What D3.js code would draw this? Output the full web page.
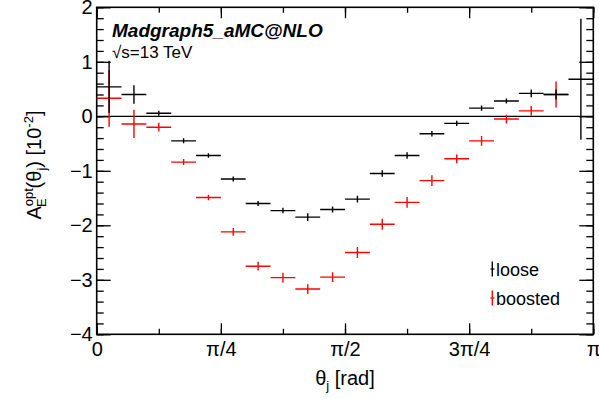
<!DOCTYPE html>
<html>
<head>
<meta charset="utf-8">
<script src="https://cdn.jsdelivr.net/npm/d3@7"></script>
<style>
  body { margin: 0; background: #fff; }
  svg { display: block; font-family: "Liberation Sans", Arial, sans-serif; }
  .axis path { display: none; }
  .axis line { stroke: #000; stroke-width: 1.3px; }
  .axis text { font-size: 20px; fill: #000; font-family: "Liberation Sans", Arial, sans-serif; }
</style>
</head>
<body>
<script>
// 20 bins between 0 and pi
const nBins = 20;
const loose = [0.54, 0.40, 0.055, -0.45, -0.72, -1.15, -1.60, -1.73, -1.85, -1.71,
               -1.52, -1.05, -0.72, -0.32, -0.13, 0.15, 0.28, 0.42, 0.40, 0.68];
const looseErr = [0.48, 0.17, 0.045, 0.045, 0.04, 0.045, 0.045, 0.05, 0.07, 0.055,
                  0.06, 0.06, 0.06, 0.05, 0.05, 0.05, 0.045, 0.07, 0.09, 1.11];
const boosted = [0.33, -0.14, -0.20, -0.84, -1.49, -2.12, -2.75, -2.96, -3.17, -2.95,
                 -2.50, -1.98, -1.58, -1.18, -0.78, -0.45, -0.05, 0.10, 0.40, null];
const boostedErr = [0.52, 0.26, 0.08, 0.055, 0.05, 0.07, 0.08, 0.09, 0.09, 0.09,
                    0.10, 0.10, 0.10, 0.10, 0.08, 0.09, 0.08, 0.09, 0.24, null];
const xTicks = [0, Math.PI / 4, Math.PI / 2, 3 * Math.PI / 4, Math.PI];
const xTickLabels = ["0", "π/4", "π/2", "3π/4", "π"];
const yTicks = [-4, -3, -2, -1, 0, 1, 2];

const width = 599, height = 399;
const margin = { top: 7.3, right: 5.7, bottom: 64.7, left: 96.7 };
const x0 = margin.left, x1 = width - margin.right;
const y0 = height - margin.bottom, y1 = margin.top;

const x = d3.scaleLinear().domain([0, Math.PI]).range([x0, x1]);
const y = d3.scaleLinear().domain([-4, 2]).range([y0, y1]);

const svg = d3.select("body").append("svg")
  .attr("width", width).attr("height", height);

svg.append("defs").append("clipPath").attr("id", "clip")
  .append("rect").attr("x", x0).attr("y", y1).attr("width", x1 - x0).attr("height", y0 - y1);

// minor ticks
const xMinor = d3.range(0, 9).map((i) => i * Math.PI / 8);
const yMinor = d3.range(-4, 2.001, 0.2);

svg.append("g").attr("class", "axis").attr("transform", `translate(0,${y0})`)
  .call(d3.axisBottom(x).tickValues(xMinor).tickSize(-5.5).tickFormat(""));
svg.append("g").attr("class", "axis").attr("transform", `translate(0,${y1})`)
  .call(d3.axisTop(x).tickValues(xMinor).tickSize(-5.5).tickFormat(""));
svg.append("g").attr("class", "axis").attr("transform", `translate(0,${y0})`)
  .call(d3.axisBottom(x).tickValues(xTicks).tickSize(-11).tickPadding(8)
    .tickFormat((d, i) => xTickLabels[i]));
svg.append("g").attr("class", "axis").attr("transform", `translate(0,${y1})`)
  .call(d3.axisTop(x).tickValues(xTicks).tickSize(-11).tickFormat(""));

svg.append("g").attr("class", "axis").attr("transform", `translate(${x0},0)`)
  .call(d3.axisLeft(y).tickValues(yMinor).tickSize(-7).tickFormat(""));
svg.append("g").attr("class", "axis").attr("transform", `translate(${x1},0)`)
  .call(d3.axisRight(y).tickValues(yMinor).tickSize(-7).tickFormat(""));
svg.append("g").attr("class", "axis").attr("transform", `translate(${x0},0)`)
  .call(d3.axisLeft(y).tickValues(yTicks).tickSize(-14).tickPadding(4).tickFormat(d3.format("d")));
svg.append("g").attr("class", "axis").attr("transform", `translate(${x1},0)`)
  .call(d3.axisRight(y).tickValues(yTicks).tickSize(-14).tickFormat(""));

// frame
svg.append("rect").attr("x", x0).attr("y", y1).attr("width", x1 - x0).attr("height", y0 - y1)
  .attr("fill", "none").attr("stroke", "#000").attr("stroke-width", 1.6);

// zero line
svg.append("line").attr("x1", x(0)).attr("x2", x(Math.PI)).attr("y1", y(0)).attr("y2", y(0))
  .attr("stroke", "#000").attr("stroke-width", 1.2);

const binW = Math.PI / nBins;
function series(vals, errs, color) {
  const pts = vals.map((v, i) => ({ v, e: errs[i], lo: i * binW, hi: (i + 1) * binW, c: (i + 0.5) * binW }))
    .filter((d) => d.v !== null);
  const g = svg.append("g").attr("clip-path", "url(#clip)")
    .attr("stroke", color).attr("stroke-width", 1.4);
  g.selectAll(".h").data(pts).join("line")
    .attr("x1", (d) => x(d.lo)).attr("x2", (d) => x(d.hi))
    .attr("y1", (d) => y(d.v)).attr("y2", (d) => y(d.v));
  g.selectAll(".v").data(pts).join("line")
    .attr("x1", (d) => x(d.c)).attr("x2", (d) => x(d.c))
    .attr("y1", (d) => y(d.v - d.e)).attr("y2", (d) => y(d.v + d.e));
}
series(boosted, boostedErr, "#ff0000");
series(loose, looseErr, "#000000");

// labels
svg.append("text").attr("x", 112).attr("y", 36.5)
  .style("font-size", "19px").style("font-weight", "bold").style("font-style", "italic")
  .text("Madgraph5_aMC@NLO");
svg.append("text").attr("x", 112).attr("y", 58)
  .style("font-size", "17px")
  .text("√s=13 TeV");

// legend
const legend = [{ name: "loose", color: "#000", y: 269 }, { name: "boosted", color: "#ff0000", y: 298 }];
const lg = svg.append("g");
lg.selectAll("line.v").data(legend).join("line")
  .attr("x1", 492.3).attr("x2", 492.3).attr("y1", (d) => d.y - 7.5).attr("y2", (d) => d.y + 7.5)
  .attr("stroke", (d) => d.color).attr("stroke-width", 1.4);
lg.selectAll("line.h").data(legend).join("line")
  .attr("x1", 490.5).attr("x2", 494.5).attr("y1", (d) => d.y).attr("y2", (d) => d.y)
  .attr("stroke", (d) => d.color).attr("stroke-width", 1.2);
lg.selectAll("text").data(legend).join("text")
  .attr("x", 496).attr("y", (d) => d.y + 6.5)
  .style("font-size", "18px")
  .text((d) => d.name);

// axis titles
const xt = svg.append("text").attr("x", 345).attr("y", 385).attr("text-anchor", "middle")
  .style("font-size", "20px");
xt.append("tspan").text("θ");
xt.append("tspan").attr("dy", 5).style("font-size", "13px").text("j");
xt.append("tspan").attr("dy", -5).text(" [rad]");

const yt = svg.append("text").attr("transform", "translate(41,165) rotate(-90)")
  .attr("text-anchor", "middle").style("font-size", "20px");
yt.append("tspan").text("A");
yt.append("tspan").attr("dy", -8).style("font-size", "13px").text("opt");
yt.append("tspan").attr("dx", -19).attr("dy", 13).style("font-size", "13px").text("E");
yt.append("tspan").attr("dx", 10).attr("dy", -5).text("(θ");
yt.append("tspan").attr("dy", 5).style("font-size", "13px").text("j");
yt.append("tspan").attr("dy", -5).text(") [10");
yt.append("tspan").attr("dy", -8).style("font-size", "13px").text("-2");
yt.append("tspan").attr("dy", 8).text("]");
</script>
</body>
</html>
